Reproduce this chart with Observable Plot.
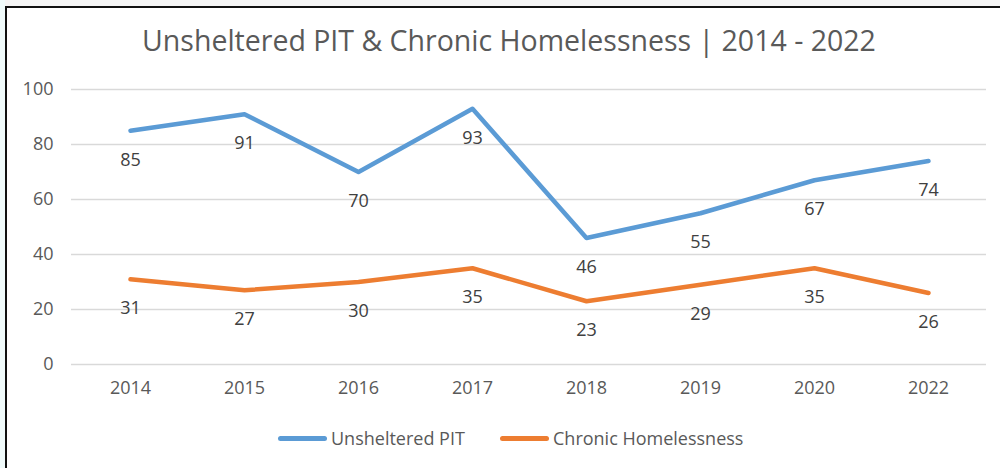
<!DOCTYPE html>
<html><head><meta charset="utf-8">
<script src="https://cdn.jsdelivr.net/npm/d3@7"></script>
<script src="https://cdn.jsdelivr.net/npm/@observablehq/plot@0.6"></script>
<style>
html,body{margin:0;padding:0;background:#fff;}
#wrap{position:relative;width:1000px;height:468px;overflow:hidden;background:#fff;}
#topstrip{position:absolute;left:0;top:0;width:1000px;height:6px;background:#f4f4f4;}
#leftstrip{position:absolute;left:0;top:0;width:5px;height:468px;background:#f0fbfb;}
#frame{position:absolute;left:5px;top:6px;width:1000px;height:470px;border-left:2px solid #111;border-top:2px solid #111;box-sizing:border-box;}
#title{position:absolute;left:0;top:21px;width:1018px;text-align:center;font-family:"Open Sans",sans-serif;font-size:28.5px;color:#595959;}
#chart{position:absolute;left:0;top:70px;}
#legend{position:absolute;top:426px;left:0;width:1000px;font-family:"Open Sans",sans-serif;font-size:18px;color:#595959;}
.lg{position:absolute;display:flex;align-items:center;}
.sw{display:inline-block;width:49px;height:5px;border-radius:3px;margin-right:4px;}
#chart svg g[aria-label$="tick label"] text{font-size:18px;}
</style></head>
<body><div id="wrap"><div id="topstrip"></div><div id="leftstrip"></div><div id="frame"></div>
<div id="title">Unsheltered PIT &amp; Chronic Homelessness | 2014 - 2022</div>
<div id="chart"></div>
<div id="legend">
<div class="lg" style="left:278px"><span class="sw" style="background:#5B9BD5"></span>Unsheltered PIT</div>
<div class="lg" style="left:500px"><span class="sw" style="background:#ED7D31"></span>Chronic Homelessness</div>
</div></div>
<script>
const years = ["2014","2015","2016","2017","2018","2019","2020","2022"];
const unsheltered = [85,91,70,93,46,55,67,74];
const chronic = [31,27,30,35,23,29,35,26];
const yTicks = [0,20,40,60,80,100];
const seriesNames = ["Unsheltered PIT","Chronic Homelessness"];
const colors = ["#5B9BD5","#ED7D31"];

const rows = [];
years.forEach((y,i)=>{
  rows.push({year:y, value:unsheltered[i], series:seriesNames[0]});
  rows.push({year:y, value:chronic[i], series:seriesNames[1]});
});

const chart = Plot.plot({
  width:1000, height:340,
  marginLeft:71, marginRight:14, marginTop:19, marginBottom:46,
  style:{fontFamily:"'Open Sans',sans-serif", fontSize:"18px", color:"#595959", background:"transparent"},
  x:{type:"point", domain:years, padding:0.5, label:null},
  y:{domain:[0,100], label:null},
  color:{domain:seriesNames, range:colors},
  marks:[
    Plot.gridY(yTicks,{stroke:"#d9d9d9", strokeOpacity:1, strokeWidth:1.3}),
    Plot.axisX({tickSize:0, tickPadding:17, fontSize:18, fill:"#595959"}),
    Plot.axisY(yTicks,{tickSize:0, tickPadding:18, fontSize:18, fill:"#595959"}),
    Plot.line(rows,{x:"year", y:"value", z:"series", stroke:"series", strokeWidth:4.5, strokeLinecap:"round", strokeLinejoin:"round"}),
    Plot.text(rows,{x:"year", y:"value", text:d=>String(d.value), dy:29, fontSize:18, fill:"#404040"})
  ]
});
document.getElementById("chart").appendChild(chart);
</script></body></html>
